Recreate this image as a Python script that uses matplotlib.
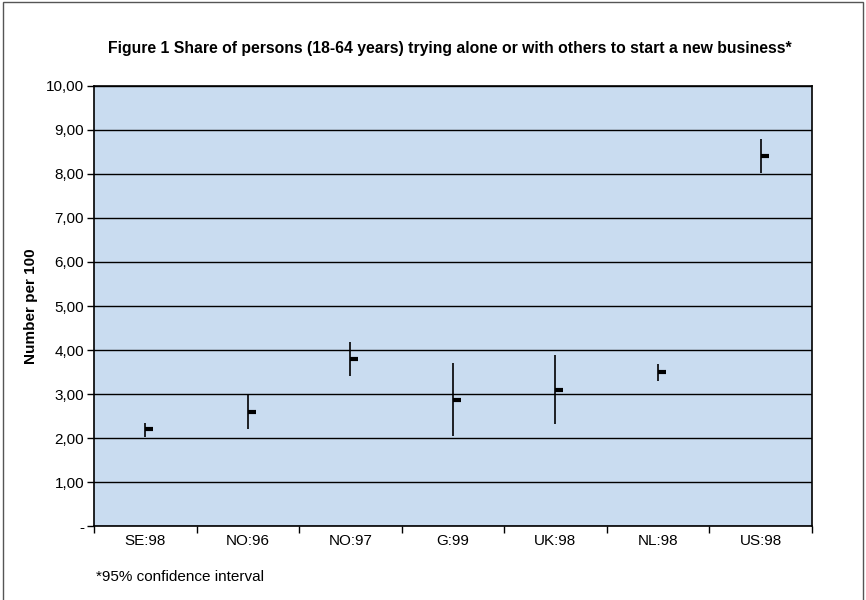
import matplotlib
matplotlib.use("Agg")
import matplotlib.pyplot as plt
from matplotlib.patches import Rectangle
from matplotlib.ticker import FixedLocator, NullFormatter

categories = ["SE:98", "NO:96", "NO:97", "G:99", "UK:98", "NL:98", "US:98"]
high = [2.35, 3.00, 4.18, 3.70, 3.88, 3.69, 8.80]
low = [2.03, 2.20, 3.41, 2.05, 2.31, 3.30, 8.02]
mid = [2.20, 2.59, 3.80, 2.87, 3.10, 3.50, 8.42]
ytick_vals = [0, 1, 2, 3, 4, 5, 6, 7, 8, 9, 10]
ytick_labels = ["-", "1,00", "2,00", "3,00", "4,00", "5,00", "6,00", "7,00", "8,00", "9,00", "10,00"]

plt.rcParams['font.family'] = ['Liberation Sans', 'DejaVu Sans']

fig = plt.figure(figsize=(8.66, 6.0), dpi=100)
fig.patches.append(Rectangle((0.003, -0.01), 0.993, 1.006, transform=fig.transFigure,
                             fill=False, edgecolor='#555555', linewidth=1.0))
ax = fig.add_axes([0.1085, 0.1233, 0.829, 0.7334])
ax.set_facecolor('#C9DCF0')

x = list(range(len(categories)))
ax.vlines(x, low, high, color='black', linewidth=1.2, zorder=3)
ax.plot(x, mid, linestyle='none', marker=1, markersize=6, markeredgewidth=3,
        color='black', zorder=4)

ax.set_xlim(-0.5, len(categories) - 0.5)
ax.set_ylim(0, 10)
ax.set_yticks(ytick_vals)
ax.set_yticklabels(ytick_labels, fontsize=11)
ax.yaxis.grid(True, color='black', linewidth=1.0)
ax.set_axisbelow(True)

ax.set_xticks(x)
ax.set_xticklabels(categories, fontsize=11)
ax.tick_params(axis='x', which='major', length=0, pad=6)
ax.xaxis.set_minor_locator(FixedLocator([i - 0.5 for i in range(len(categories) + 1)]))
ax.xaxis.set_minor_formatter(NullFormatter())
ax.tick_params(axis='x', which='minor', length=5, direction='out', width=1)
ax.tick_params(axis='y', length=5, direction='out', width=1, pad=2)

for s in ax.spines.values():
    s.set_color('black')
    s.set_linewidth(1.2)

ax.set_ylabel("Number per 100", fontsize=11, fontweight='bold', labelpad=6)

fig.text(0.125, 0.92, "Figure 1 Share of persons (18-64 years) trying alone or with others to start a new business*",
         fontsize=11.3, fontweight='bold', ha='left', va='center')
fig.text(0.111, 0.038, "*95% confidence interval", fontsize=11, ha='left', va='center')

fig.savefig("out.png", dpi=100)
